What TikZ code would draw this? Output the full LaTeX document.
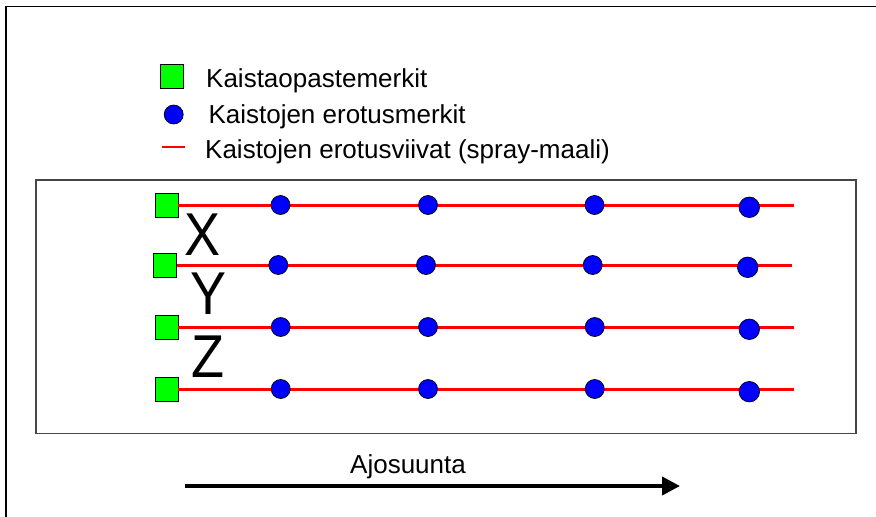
\documentclass[tikz,border=0pt]{standalone}
\usepackage{fontspec}
\setmainfont{Liberation Sans}
\usetikzlibrary{arrows.meta}
\definecolor{markgreen}{RGB}{0,255,0}
\definecolor{markblue}{RGB}{0,0,255}
\definecolor{lanered}{RGB}{255,0,0}
\definecolor{framegray}{RGB}{70,70,70}
\tikzset{
  guidemark/.style={draw=black, line width=0.7pt, fill=markgreen, minimum width=23pt, minimum height=24pt, inner sep=0pt},
  sepmark/.style={circle, draw=black, line width=0.7pt, fill=markblue, minimum size=19pt, inner sep=0pt},
  sepmarkbig/.style={sepmark, minimum size=20.5pt},
  laneline/.style={draw=lanered, line width=3pt},
  legendtext/.style={anchor=base west, font=\fontsize{26}{30}\selectfont, inner sep=0pt},
  lanelabel/.style={font=\fontsize{54}{60}\selectfont, yscale=1.12, inner sep=0pt},
}
\begin{document}
\begin{tikzpicture}[x=1pt, y=-1pt]
  \useasboundingbox (0,0) rectangle (876,517);
  % outer frame (only top and left edges fall inside the page)
  \draw[line width=1.8pt, black] (6,517) -- (6,6.5) -- (876,6.5);

  % legend
  \node[guidemark] (lg1) at (172,76) {};
  \node[legendtext] (lt1) at (206,87.3) {Kaistaopastemerkit};
  \node[sepmark] (lg2) at (173.7,114.5) {};
  \node[legendtext] (lt2) at (208.3,123.3) {Kaistojen erotusmerkit};
  \coordinate (ld1) at (161.7,146.7);
  \coordinate (ld2) at (185,146.7);
  \draw[draw=lanered, line width=2pt] (ld1) -- (ld2);
  \node[legendtext] (lt3) at (205,158) {Kaistojen erotusviivat (spray-maali)};

  % road area
  \draw[framegray, line width=1.5pt] (36,180) rectangle (856,433.3);

  % lane guide marks
  \node[guidemark] (s1) at (166.5,205) {};
  \node[guidemark] (s2) at (164.7,265) {};
  \node[guidemark] (s3) at (166.5,327) {};
  \node[guidemark] (s4) at (166.5,389) {};

  % lane separation lines
  \coordinate (e1) at (794,205);
  \coordinate (e2) at (792,265);
  \coordinate (e3) at (794,327);
  \coordinate (e4) at (794,389);
  \foreach \i in {1,2,3,4} \draw[laneline] (s\i) -- (e\i);

  % lane separation markers
  \node[sepmark] (c11) at (280.5,205) {};
  \node[sepmark] (c12) at (428,205) {};
  \node[sepmark] (c13) at (594.5,205) {};
  \node[sepmarkbig] (c14) at (749.3,207.3) {};
  \node[sepmark] (c21) at (278.3,265) {};
  \node[sepmark] (c22) at (426,265) {};
  \node[sepmark] (c23) at (592.7,265) {};
  \node[sepmarkbig] (c24) at (747.7,267.3) {};
  \node[sepmark] (c31) at (280.7,327) {};
  \node[sepmark] (c32) at (428,327) {};
  \node[sepmark] (c33) at (594.7,327) {};
  \node[sepmarkbig] (c34) at (749.3,329.3) {};
  \node[sepmark] (c41) at (280.7,389) {};
  \node[sepmark] (c42) at (428,389) {};
  \node[sepmark] (c43) at (594.7,389) {};
  \node[sepmarkbig] (c44) at (749.3,391.7) {};

  % lane labels
  \node[lanelabel] (lx) at (202.7,235) {X};
  \node[lanelabel] (ly) at (208.7,294) {Y};
  \node[lanelabel] (lz) at (208.3,356.3) {Z};

  % driving direction
  \node[legendtext] (dir) at (350,473.3) {Ajosuunta};
  \coordinate (a1) at (185,486);
  \coordinate (a2) at (680,486);
  \draw[line width=4pt, -{Triangle[length=18pt, width=18pt]}] (a1) -- (a2);
\end{tikzpicture}
\end{document}
